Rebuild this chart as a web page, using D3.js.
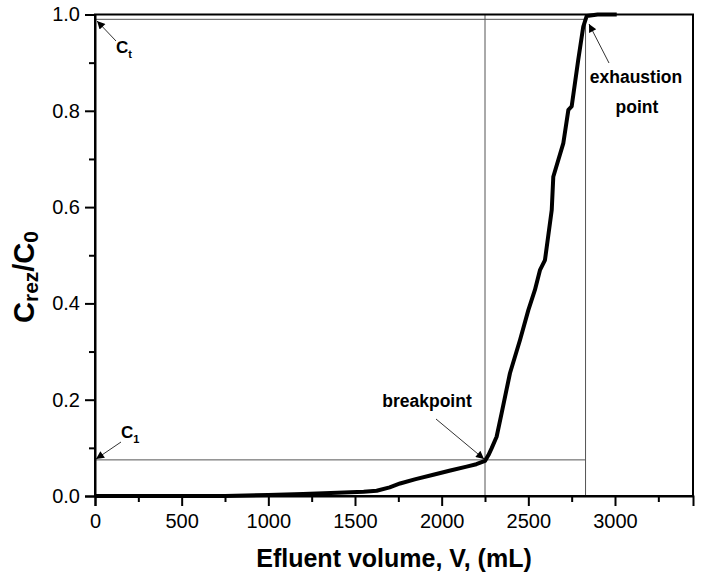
<!DOCTYPE html>
<html>
<head>
<meta charset="utf-8">
<script src="https://cdn.jsdelivr.net/npm/d3@7"></script>
<style>
  body { margin: 0; background: #fff; }
  svg { font-family: "Liberation Sans", Arial, sans-serif; }
</style>
</head>
<body>
<svg id="chart" width="703" height="583"></svg>
<script>
// Breakthrough curve
const volume = [0, 250, 500, 750, 1000, 1200, 1400, 1550, 1625, 1700, 1760, 1850, 1952, 2050, 2144, 2200, 2250,
  2270, 2288, 2317, 2346, 2394, 2452, 2500, 2538, 2567, 2596, 2635, 2644, 2702, 2731, 2750, 2788, 2817, 2837, 2900, 3010];
const ratio = [0, 0, 0, 0, 0.002, 0.004, 0.007, 0.009, 0.011, 0.018, 0.026, 0.035, 0.044, 0.053, 0.061, 0.066, 0.073,
  0.085, 0.099, 0.123, 0.172, 0.255, 0.324, 0.386, 0.428, 0.469, 0.490, 0.594, 0.663, 0.733, 0.802, 0.809, 0.906, 0.975, 0.997, 1.0, 1.0];

// Reference markers
const breakVolume = 2250;
const exhaustVolume = 2830;
const c1Level = 0.075;
const ctLevel = 0.99;

// Axis ticks
const xTicks = [0, 500, 1000, 1500, 2000, 2500, 3000];
const xMinor = [250, 750, 1250, 1750, 2250, 2750, 3250];
const yTicks = [0, 0.2, 0.4, 0.6, 0.8, 1.0];
const yMinor = [0.1, 0.3, 0.5, 0.7, 0.9];

const margin = { top: 14.5, right: 10, bottom: 87, left: 95 };
const width = 693 - margin.left;
const height = 496 - margin.top;

const svg = d3.select("#chart")
  .append("g")
  .attr("transform", `translate(${margin.left},${margin.top})`);

const x = d3.scaleLinear().domain([0, 3450]).range([0, width]);
const y = d3.scaleLinear().domain([0, 1]).range([height, 0]);

// Reference lines
const refColor = "#555";
svg.append("line")
  .attr("x1", x(0)).attr("x2", x(exhaustVolume))
  .attr("y1", y(c1Level)).attr("y2", y(c1Level))
  .attr("stroke", refColor).attr("stroke-width", 1);
svg.append("line")
  .attr("x1", x(0)).attr("x2", x(exhaustVolume))
  .attr("y1", y(ctLevel)).attr("y2", y(ctLevel))
  .attr("stroke", refColor).attr("stroke-width", 1);
[breakVolume, exhaustVolume].forEach(v => {
  svg.append("line")
    .attr("x1", x(v)).attr("x2", x(v))
    .attr("y1", y(1)).attr("y2", y(0))
    .attr("stroke", refColor).attr("stroke-width", 1);
});

// Curve
const pts = volume.map((v, i) => [v, ratio[i]]);
svg.append("path")
  .datum(pts)
  .attr("fill", "none")
  .attr("stroke", "#000")
  .attr("stroke-width", 4)
  .attr("stroke-linejoin", "round")
  .attr("d", d3.line().x(d => x(d[0])).y(d => y(d[1])));

// Frame
svg.append("rect")
  .attr("x", 0).attr("y", 0)
  .attr("width", width).attr("height", height)
  .attr("fill", "none").attr("stroke", "#000").attr("stroke-width", 2);

// Axes
svg.append("g")
  .attr("transform", `translate(0,${height})`)
  .call(d3.axisBottom(x).tickValues(xTicks).tickSize(10).tickPadding(8).tickFormat(d3.format("d")));
svg.append("g")
  .attr("transform", `translate(0,${height})`)
  .call(d3.axisBottom(x).tickValues(xMinor).tickSize(6).tickFormat(""))
  .call(g => g.select(".domain").remove());

svg.append("g")
  .call(d3.axisLeft(y).tickValues(yTicks).tickSize(10).tickPadding(5).tickFormat(d3.format(".1f")));
svg.append("g")
  .call(d3.axisLeft(y).tickValues(yMinor).tickSize(6).tickFormat(""))
  .call(g => g.select(".domain").remove());

svg.selectAll(".tick line").attr("stroke", "#000").attr("stroke-width", 2);
svg.selectAll(".domain").attr("stroke", "#000").attr("stroke-width", 2);
svg.selectAll(".tick text").attr("font-size", 20).attr("fill", "#000")
  .attr("font-family", "Liberation Sans, Arial, sans-serif");

// Axis titles
d3.select("#chart").append("text")
  .attr("x", 394).attr("y", 567)
  .attr("text-anchor", "middle")
  .attr("font-size", 25).attr("font-weight", "bold")
  .text("Efluent volume, V, (mL)");

const yt = d3.select("#chart").append("text")
  .attr("transform", "translate(34,277) rotate(-90)")
  .attr("text-anchor", "middle")
  .attr("font-size", 29).attr("font-weight", "bold");
yt.append("tspan").text("C");
yt.append("tspan").attr("font-size", 21).attr("dy", 4).text("rez");
yt.append("tspan").attr("dy", -4).text("/C");
yt.append("tspan").attr("font-size", 21).attr("dy", 4).text("0");

// Annotations
const defs = d3.select("#chart").append("defs");
defs.append("marker")
  .attr("id", "arrow")
  .attr("viewBox", "0 0 10 10")
  .attr("refX", 10).attr("refY", 5)
  .attr("markerWidth", 12).attr("markerHeight", 8)
  .attr("markerUnits", "userSpaceOnUse")
  .attr("orient", "auto")
  .append("path").attr("d", "M0,0 L10,5 L0,10 Z").attr("fill", "#000");

const ann = d3.select("#chart").append("g")
  .attr("font-weight", "bold").attr("fill", "#000");

function arrow(x1, y1, x2, y2) {
  ann.append("line")
    .attr("x1", x1).attr("y1", y1).attr("x2", x2).attr("y2", y2)
    .attr("stroke", "#333").attr("stroke-width", 1)
    .attr("marker-end", "url(#arrow)");
}

function subLabel(px, py, main, sub) {
  const t = ann.append("text").attr("x", px).attr("y", py).attr("font-size", 17);
  t.append("tspan").text(main);
  t.append("tspan").attr("font-size", 11).attr("dy", 5).text(sub);
}

subLabel(116, 53, "C", "t");
arrow(116, 41, 97, 21);

subLabel(121, 438, "C", "1");
arrow(121, 442, 96, 459);

ann.append("text").attr("x", 427).attr("y", 407)
  .attr("text-anchor", "middle").attr("font-size", 17.5).text("breakpoint");
arrow(436, 419, 484, 459);

ann.append("text").attr("x", 636).attr("y", 83)
  .attr("text-anchor", "middle").attr("font-size", 17.5).text("exhaustion");
ann.append("text").attr("x", 637).attr("y", 113)
  .attr("text-anchor", "middle").attr("font-size", 17.5).text("point");
arrow(609, 63, 589, 24);
</script>
</body>
</html>
